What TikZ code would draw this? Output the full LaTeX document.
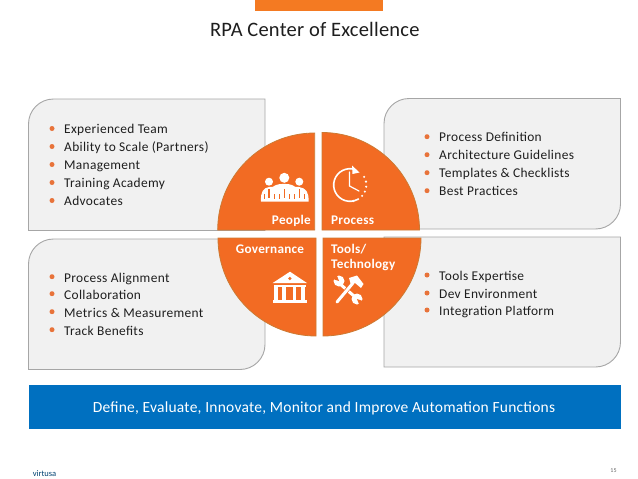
\documentclass[tikz,border=0pt]{standalone}
\usepackage{fontspec}
\setmainfont{Carlito}
\usetikzlibrary{calc}
\definecolor{orangeA}{HTML}{F26B23}
\definecolor{orangeE}{HTML}{CC7A33}
\definecolor{barO}{HTML}{F47A22}
\definecolor{bulletO}{HTML}{E8733A}
\definecolor{panelF}{HTML}{F1F1F1}
\definecolor{panelE}{HTML}{A6A6A6}
\definecolor{blueB}{HTML}{0070C0}
\definecolor{inkT}{HTML}{1E1E1E}
\tikzset{
  panel/.style={fill=panelF,draw=panelE,line width=0.9pt},
  quarter/.style={fill=orangeA,draw=orangeE,line width=0.8pt},
  itemtext/.style={anchor=base west,inner sep=0pt,text=inkT,font=\fontsize{13.4}{15}\selectfont\addfontfeature{LetterSpace=2.5}},
  bulletdot/.style={circle,fill=bulletO,inner sep=0pt,minimum size=5pt},
  qlabel/.style={inner sep=0pt,text=white,font=\fontsize{13.2}{15}\selectfont\bfseries\addfontfeature{LetterSpace=2}},
  iconw/.style={fill=white,draw=none},
  iconl/.style={draw=white,line width=1.6pt,line cap=round},
}
\begin{document}
\begin{tikzpicture}[x=1pt,y=-1pt]
\useasboundingbox (0,0) rectangle (638,479);
\fill[white] (0,0) rectangle (638,479);
% top bar and title
\fill[barO] (255,0) rectangle (382.7,10.5);
\node[anchor=base,inner sep=0pt,text=inkT,font=\fontsize{20.5}{24}\selectfont\addfontfeature{LetterSpace=1}] (title) at (314.8,36) {RPA Center of Excellence};
% panels
\draw[panel] (28.5,230.5) -- (28.5,124) arc[start angle=180,delta angle=90,radius=25] -- (265,99) -- (265,230.5) -- cycle;
\draw[panel] (28.5,369.5) -- (28.5,264) arc[start angle=180,delta angle=90,radius=25] -- (265,239) -- (265,344.5) arc[start angle=0,delta angle=90,radius=25] -- cycle;
\draw[panel] (384,229) -- (384,123.5) arc[start angle=180,delta angle=90,radius=25] -- (620.5,98.5) -- (620.5,204) arc[start angle=0,delta angle=90,radius=25] -- cycle;
\draw[panel] (384,367) -- (384,237) -- (620.5,237) -- (620.5,342) arc[start angle=0,delta angle=90,radius=25] -- cycle;
% quarters (y axis is flipped: angles go clockwise on the page)
\draw[quarter] (314.7,230) -- (217.7,230) arc[start angle=180,delta angle=90,radius=97] -- cycle;
\draw[quarter] (322,230) -- (322,132.5) arc[start angle=270,delta angle=90,radius=97.5] -- cycle;
\draw[quarter] (316,238) -- (218,238) arc[start angle=180,delta angle=-90,radius=98] -- cycle;
\draw[quarter] (323,238) -- (421,238) arc[start angle=0,delta angle=90,radius=98] -- cycle;
% quarter labels
\node[qlabel,anchor=base east] (people) at (311,224) {People};
\node[qlabel,anchor=base west] (process) at (331,224) {Process};
\node[qlabel,anchor=base] (gov) at (270,253) {Governance};
\node[qlabel,anchor=base west] (tools) at (331,253) {Tools/};
\node[qlabel,anchor=base west] (techno) at (331,268) {Technology};
% people icon
\fill[iconw] (269,181.7) circle (4);
\fill[iconw] (299.3,181.7) circle (4);
\fill[iconw] (284.3,177.8) circle (5);
\fill[iconw] (261,201.5) .. controls (260.5,192) and (263,188) .. (269,187) .. controls (272,187) and (274,187) .. (276,185) .. controls (280,183.5) and (288,183.5) .. (292,185) .. controls (294,187) and (296,187) .. (299,187) .. controls (306,188) and (309,192) .. (308.5,201.5) -- cycle;
\foreach \xx in {269,284.3,299.3}{\fill[orangeA] (\xx-0.7,189) rectangle (\xx+0.7,198);}
\foreach \xx in {264,274,279.5,289,294,304}{\draw[orangeA,line width=0.5pt] (\xx,194) -- (\xx,199);}
% clock icon
\draw[iconl] (355,169.5) arc[start angle=-72,delta angle=-225,radius=16.3];
\fill[iconw] (359.5,172.5) -- (352,165.5) -- (352.5,174) -- cycle;
\foreach \aa in {-30,-12,6,24,42,60,78}{\fill[iconw] ($(350,185)+(\aa:16.3)$) circle (1.2);}
\draw[iconl,line width=1.2pt] (349.5,172) -- (349.5,186) -- (359,191);
% bank icon
\fill[iconw] (272.7,283) -- (290,271.7) -- (307,283) -- cycle;
\fill[orangeA] (289.8,278.5) circle (1.8);
\fill[iconw] (274,285) rectangle (306,286.5);
\foreach \xx in {274,282,292.5,301}{\fill[iconw] (\xx,287) rectangle (\xx+3.6,300);}
\fill[iconw] (273,300) rectangle (307,303);
% tools icon: wrench
\draw[white,line width=3pt] (340,284) -- (354,296);
\fill[iconw] (339,281) circle (5.5);
\fill[iconw] (357,299) circle (5.5);
\fill[orangeA] (339,281) -- (333,279) -- (336.5,274.5) -- cycle;
\fill[orangeA] (357,299) -- (363,301) -- (359.5,305.5) -- cycle;
% tools icon: hammer
\draw[orangeA,line width=4.4pt] (337,302) -- (352,284);
\draw[white,line width=3pt,line cap=round] (337,302) -- (353,283);
\fill[iconw] (349,278) -- (357,275.5) -- (363.5,284) -- (361,288) -- (355,283) -- (351,285) -- cycle;
% left top list
\foreach \nn/\yy/\tt in {a/128.5/Experienced Team,b/146.5/Ability to Scale (Partners),c/164.5/Management,d/182.5/Training Academy,e/200.5/Advocates}{
  \node[bulletdot] (dot\nn) at (52,\yy) {};
  \node[itemtext] (txt\nn) at (64,\yy+5) {\tt};
}
% left bottom list
\foreach \nn/\yy/\tt in {f/277.5/Process Alignment,g/294.5/Collaboration,h/312.5/Metrics \& Measurement,i/330.5/Track Benefits}{
  \node[bulletdot] (dot\nn) at (52,\yy-0.8) {};
  \node[itemtext] (txt\nn) at (64,\yy+5) {\tt};
}
% right top list
\foreach \nn/\yy/\tt in {j/136.7/Process Definition,k/154.7/Architecture Guidelines,l/172.7/Templates \& Checklists,m/190.7/Best Practices}{
  \node[bulletdot] (dot\nn) at (427,\yy) {};
  \node[itemtext] (txt\nn) at (439,\yy+5) {\tt};
}
% right bottom list
\foreach \nn/\yy/\tt in {n/275.5/Tools Expertise,o/293.5/Dev Environment,p/310.5/Integration Platform}{
  \node[bulletdot] (dot\nn) at (427,\yy-0.5) {};
  \node[itemtext] (txt\nn) at (439,\yy+5) {\tt};
}
% blue bar
\fill[blueB] (29,385) rectangle (621,428.5);
\node[anchor=base,inner sep=0pt,text=white,font=\fontsize{15.5}{18}\selectfont\addfontfeature{LetterSpace=1.5}] (motto) at (324,412) {Define, Evaluate, Innovate, Monitor and Improve Automation Functions};
% footer
\node[inner sep=0pt,text=blueB!60!black,font=\fontsize{8.5}{10}\selectfont] (brand) at (44.5,474) {virtusa};
\node[inner sep=0pt,text=black!60,font=\fontsize{6}{7}\selectfont] (page) at (613.5,471) {15};
\end{tikzpicture}
\end{document}
